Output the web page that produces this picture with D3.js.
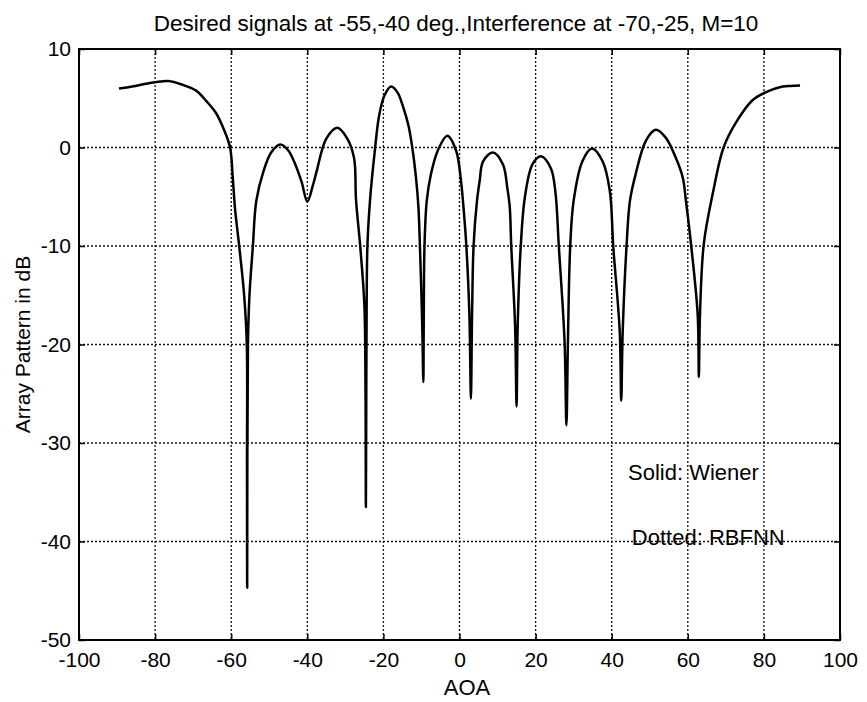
<!DOCTYPE html>
<html>
<head>
<meta charset="utf-8">
<script src="https://cdn.jsdelivr.net/npm/d3@7"></script>
<style>
  body { margin: 0; background: #fff; }
  text { font-family: "Liberation Sans", Arial, sans-serif; fill: #000; }
</style>
</head>
<body>
<svg id="chart" width="867" height="702"></svg>
<script>
// digitised pattern (AOA in degrees, gain in dB)
var aoa = [-89.5,-86,-82,-78.5,-76.5,-73,-69.3,-66.5,-64,-62,-60.3,-59.6,-59.0,-57.9,-56.6,-55.9,-55.85,-55.8,
  -55.6,-55.2,-54.3,-53.4,-51.5,-49.5,-47.1,-45,-43.5,-41.5,-40,-38.5,-37.6,-35,-32.1,-29.5,-27.7,-27.2,-26.1,
  -25,-24.7,-24.6,-24.5,-24.4,-24.2,-23.5,-22.3,-21.1,-19.7,-18,-16.3,-14.8,-13.4,-12.3,-11.4,-10.8,-10.4,-9.8,-9.5,
  -9.4,-9.2,-8.6,-7.5,-5.7,-3.2,-0.9,0.4,0.9,1.8,2.6,3.0,3.3,3.7,4.6,5.3,6.2,8.8,11.4,12.6,13.2,13.6,14.6,15,
  15.3,16.1,17.2,19.2,21.4,24,25.2,26.1,27.6,28.1,28.5,29.1,30,32.3,34.8,37.6,39.5,40.4,42.1,42.5,42.9,43.9,
  44.8,46.3,49,51.6,54.2,56.8,58.7,59.5,60.9,62.6,62.9,63.2,64.2,66.6,69.4,72.6,77,80.4,83.9,87,89.5];
var gain = [6.0,6.2,6.5,6.7,6.75,6.4,5.8,4.7,3.5,1.9,0,-3,-6.2,-10,-15,-20,-32,-44.7,
  -20,-15,-10,-5.4,-2.4,-0.5,0.3,-0.3,-1.4,-3.5,-5.5,-3.8,-2.5,0.9,2.0,0.9,-1.1,-5.3,-10,
  -16,-25,-36.5,-25,-16,-10,-5.3,-0.5,3.3,5.3,6.2,5.6,4.1,2.2,-0.3,-3.2,-6,-10,-18,-23.8,
  -18,-10,-5.4,-2.7,-0.3,1.2,-0.3,-3.4,-5.4,-10,-17,-25.5,-17,-10,-5.4,-3.4,-1.4,-0.5,-1.7,-4.2,-6,-10,-18,-26.3,
  -18,-10,-5.0,-1.7,-0.9,-2.1,-4.5,-10,-19.6,-28.2,-19.6,-10,-5.4,-1.4,-0.1,-1.4,-4.4,-10,-18.6,-25.7,-18.6,-10,
  -5.4,-2.7,0.7,1.8,1.0,-1.0,-3.1,-5.4,-10,-17,-23.3,-17,-9.8,-4.6,0,2.5,4.8,5.6,6.1,6.25,6.3];

var xTicks = [-100,-80,-60,-40,-20,0,20,40,60,80,100];
var yTicks = [10,0,-10,-20,-30,-40,-50];

var titleText = "Desired signals at -55,-40 deg.,Interference at -70,-25, M=10";
var xLabel = "AOA";
var yLabel = "Array Pattern in dB";
var notes = ["Solid: Wiener", "Dotted: RBFNN"];

var pLeft = 79, pRight = 840, pTop = 49, pBottom = 640;

var svg = d3.select("#chart");

var x = d3.scaleLinear().domain([-100, 100]).range([pLeft, pRight]);
var y = d3.scaleLinear().domain([-50, 10]).range([pBottom, pTop]);

// grid
svg.append("g").selectAll("line")
    .data(xTicks.slice(1, -1))
    .enter().append("line")
    .attr("x1", d => x(d)).attr("x2", d => x(d))
    .attr("y1", pTop).attr("y2", pBottom)
    .attr("stroke", "#111").attr("stroke-width", 1.3)
    .attr("stroke-dasharray", "2,2");

svg.append("g").selectAll("line")
    .data(yTicks.slice(1, -1))
    .enter().append("line")
    .attr("x1", pLeft).attr("x2", pRight)
    .attr("y1", d => y(d)).attr("y2", d => y(d))
    .attr("stroke", "#111").attr("stroke-width", 1.3)
    .attr("stroke-dasharray", "2,2");

// axes with inward ticks
var fmt = d => String(d);
var xAxis = svg.append("g").attr("transform", "translate(0," + pBottom + ")")
    .call(d3.axisBottom(x).tickValues(xTicks).tickSize(-6).tickPadding(12).tickFormat(fmt));
var xAxisTop = svg.append("g").attr("transform", "translate(0," + pTop + ")")
    .call(d3.axisTop(x).tickValues(xTicks).tickSize(-6).tickFormat(""));
var yAxis = svg.append("g").attr("transform", "translate(" + pLeft + ",0)")
    .call(d3.axisLeft(y).tickValues(yTicks).tickSize(-6).tickPadding(8).tickFormat(fmt));
var yAxisRight = svg.append("g").attr("transform", "translate(" + pRight + ",0)")
    .call(d3.axisRight(y).tickValues(yTicks).tickSize(-6).tickFormat(""));

[xAxis, xAxisTop, yAxis, yAxisRight].forEach(function(a) {
  a.select(".domain").remove();
  a.selectAll(".tick line").attr("stroke", "#000").attr("stroke-width", 1.5);
  a.selectAll(".tick text").style("font-size", "21px")
      .style("font-family", "'Liberation Sans', Arial, sans-serif").attr("fill", "#000");
});

// frame
svg.append("rect")
    .attr("x", pLeft).attr("y", pTop)
    .attr("width", pRight - pLeft).attr("height", pBottom - pTop)
    .attr("fill", "none").attr("stroke", "#000").attr("stroke-width", 2);

// pattern curve
var line = d3.line()
    .x((d, i) => x(aoa[i]))
    .y((d, i) => y(gain[i]))
    .curve(d3.curveCatmullRom.alpha(0.5));

svg.append("path")
    .datum(aoa)
    .attr("d", line)
    .attr("fill", "none")
    .attr("stroke", "#000")
    .attr("stroke-width", 2.5)
    .attr("stroke-linejoin", "round");

// notes
svg.append("text").attr("x", x(44.3)).attr("y", y(-33.75))
    .style("font-size", "22px").text(notes[0]);
svg.append("text").attr("x", x(45.3)).attr("y", y(-40.4))
    .style("font-size", "22px").text(notes[1]);

// title and labels
svg.append("text").attr("x", 456).attr("y", 31)
    .attr("text-anchor", "middle").style("font-size", "22.5px").text(titleText);
svg.append("text").attr("x", 467).attr("y", 695)
    .attr("text-anchor", "middle").style("font-size", "22px").text(xLabel);
svg.append("text")
    .attr("transform", "translate(30," + ((pTop + pBottom) / 2) + ") rotate(-90)")
    .attr("text-anchor", "middle").style("font-size", "21px").text(yLabel);
</script>
</body>
</html>
